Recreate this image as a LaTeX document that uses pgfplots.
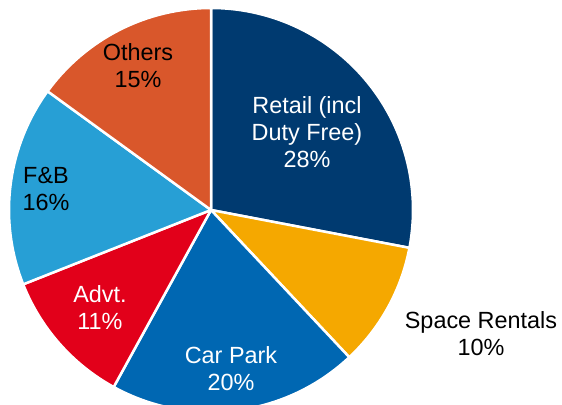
\documentclass[border=0pt]{standalone}
\usepackage{fontspec}
\setmainfont{Liberation Sans}
\usepackage{pgfplots}
\pgfplotsset{compat=1.18}

\definecolor{cRetail}{HTML}{003A70}
\definecolor{cSpace}{HTML}{F5A800}
\definecolor{cCar}{HTML}{0067B2}
\definecolor{cAdvt}{HTML}{E2001A}
\definecolor{cFB}{HTML}{279FD5}
\definecolor{cOther}{HTML}{D9572B}

\begin{document}
\begin{tikzpicture}
\begin{axis}[
  at={(0,0)}, anchor=south west,
  width=562bp, height=405bp, scale only axis,
  xmin=0, xmax=562, ymin=0, ymax=405,
  hide axis, clip=false,
]
% slices, clockwise from 12 o'clock, value in percent
\foreach \v/\c [remember=\e as \s (initially 90)] in
    {28/cRetail, 10/cSpace, 20/cCar, 11/cAdvt, 16/cFB, 15/cOther} {
  \pgfmathsetmacro{\e}{\s-3.6*\v}
  \edef\temp{\noexpand\fill[\c, draw=white, line width=2.5bp, line join=round]
    (axis cs:211,195) -- ++(\s:202bp) arc[start angle=\s, end angle=\e, radius=202bp] -- cycle;}
  \temp
}
\tikzset{lbl/.style={align=center, font=\fontsize{23.5}{27}\selectfont}}
\node[lbl, text=white] at (axis cs:307,273) {Retail (incl\\Duty Free)\\28\%};
\node[lbl] at (axis cs:481,71) {Space Rentals\\10\%};
\node[lbl, text=white] at (axis cs:231,36) {Car Park\\20\%};
\node[lbl, text=white] at (axis cs:100,97) {Advt.\\11\%};
\node[lbl] at (axis cs:46,216) {F\&B\\16\%};
\node[lbl] at (axis cs:138,339) {Others\\15\%};
\end{axis}
\pgfresetboundingbox
\path (0,0) rectangle (562bp,405bp);
\end{tikzpicture}
\end{document}
